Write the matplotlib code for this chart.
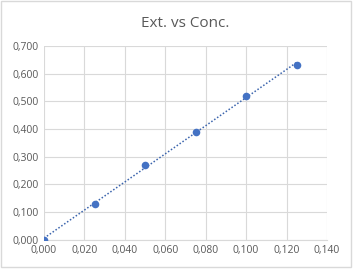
import numpy as np
import matplotlib
matplotlib.use('Agg')
import matplotlib.pyplot as plt
from matplotlib.patches import Rectangle
from matplotlib.ticker import FuncFormatter, MultipleLocator

conc = [0.000, 0.025, 0.050, 0.075, 0.100, 0.125]
ext = [0.000, 0.128, 0.270, 0.390, 0.520, 0.630]

blue = '#4472c4'
grey_text = '#595959'
grid_grey = '#d9d9d9'

plt.rcParams['font.family'] = ['Open Sans', 'DejaVu Sans']


def comma_fmt(v, pos):
    return f'{v:.3f}'.replace('.', ',')


fig = plt.figure(figsize=(3.53, 2.69), dpi=100)
fig.patches.append(Rectangle((0.004, 0.006), 0.99, 0.99, transform=fig.transFigure,
                             fill=False, edgecolor='#d9d9d9', linewidth=1))
ax = fig.add_axes([0.1246, 0.109, 0.8016, 0.720])

# linear trendline, dotted
slope, intercept = np.polyfit(conc, ext, 1)
xs = np.array([conc[0], conc[-1]])
ax.plot(xs, slope * xs + intercept, linestyle=(0, (1, 1.3)), color='#3b64ad', linewidth=1.1, zorder=2)
ax.scatter(conc, ext, s=30, color=blue, zorder=3, linewidths=0)

ax.set_xlim(0, 0.14)
ax.set_ylim(0, 0.7)
ax.xaxis.set_major_locator(MultipleLocator(0.02))
ax.yaxis.set_major_locator(MultipleLocator(0.1))
ax.xaxis.set_major_formatter(FuncFormatter(comma_fmt))
ax.yaxis.set_major_formatter(FuncFormatter(comma_fmt))
ax.grid(True, color=grid_grey, linewidth=0.8)
ax.set_axisbelow(True)
for side in ['top', 'right', 'left']:
    ax.spines[side].set_visible(False)
ax.spines['bottom'].set_color(grid_grey)
ax.tick_params(length=0, labelsize=7.5, colors=grey_text, pad=4)
ax.set_title('Ext. vs Conc.', fontsize=11, color=grey_text, pad=14)

plt.savefig('out.png', dpi=100)
plt.close()
